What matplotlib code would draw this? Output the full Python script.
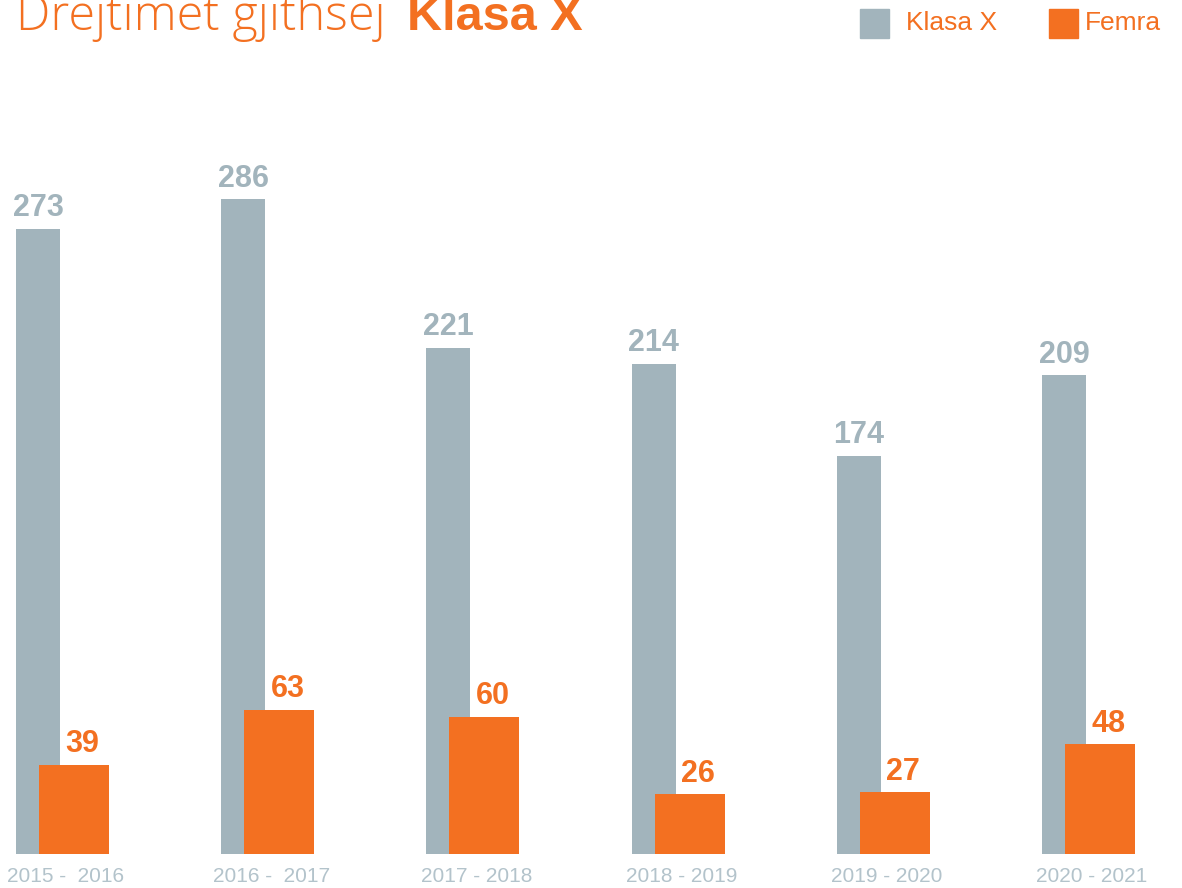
import numpy as np
import matplotlib
matplotlib.use("Agg")
import matplotlib.pyplot as plt
from matplotlib.patches import Rectangle

# ── data ───────────────────────────────────────────────────────────────────────
years   = ["2015 -  2016", "2016 -  2017", "2017 - 2018",
           "2018 - 2019", "2019 - 2020", "2020 - 2021"]
klasa_x = [273, 286, 221, 214, 174, 209]
femra   = [39, 63, 60, 26, 27, 48]

GRAY   = "#a2b4bc"
ORANGE = "#f37021"
TICK   = "#b3c3cb"

W, H  = 1182, 888
PX    = 205.2           # pixels per group unit
SCALE = 2.29            # pixels per value unit
plt.rcParams["font.family"] = ["Liberation Sans", "DejaVu Sans"]

fig = plt.figure(figsize=(W / 100, H / 100), dpi=100)
ax = fig.add_axes([0, 34 / H, 1, 854 / H])

x = np.arange(len(years))
w_gray, w_or, off = 44 / PX, 70 / PX, 23 / PX

ax.bar(x, klasa_x, width=w_gray, align="edge", color=GRAY, zorder=2)
ax.bar(x + off, femra, width=w_or, align="edge", color=ORANGE, zorder=3)

for xi, v in zip(x, klasa_x):
    ax.annotate(str(v), (xi + w_gray / 2, v), xytext=(0, 4), textcoords="offset points",
                ha="center", va="bottom", fontsize=22, fontweight="bold", color=GRAY)
for xi, v in zip(x, femra):
    ax.annotate(str(v), (xi + off + w_or / 2, v), xytext=(6, 4), textcoords="offset points",
                ha="center", va="bottom", fontsize=22, fontweight="bold", color=ORANGE)

# year labels under groups
for xi, lab in zip(x, years):
    ax.text(xi + 50 / PX, -22 / SCALE, lab, ha="center", va="center",
            fontsize=15, color=TICK, clip_on=False)

ax.set_xlim(-16 / PX, (W - 16) / PX)
ax.set_ylim(0, 854 / SCALE)
ax.axis("off")

# title
fig.text(16 / W, 1 - 30 / H, "Drejtimet gjithsej", fontsize=35, color=ORANGE,
         family=["Open Sans", "Liberation Sans"], fontweight="light",
         ha="left", va="baseline")
fig.text(407 / W, 1 - 30 / H, "Klasa X", fontsize=35, color=ORANGE,
         fontweight="bold", ha="left", va="baseline")

# legend
for (lx, col, lab, tx) in [(860, GRAY, "Klasa X", 906), (1049, ORANGE, "Femra", 1085)]:
    fig.patches.append(Rectangle((lx / W, 1 - 38 / H), 29 / W, 29 / H,
                                 transform=fig.transFigure, color=col))
    fig.text(tx / W, 1 - 23 / H, lab, fontsize=19, color=ORANGE,
             ha="left", va="center")

fig.savefig("out.png", dpi=100)
